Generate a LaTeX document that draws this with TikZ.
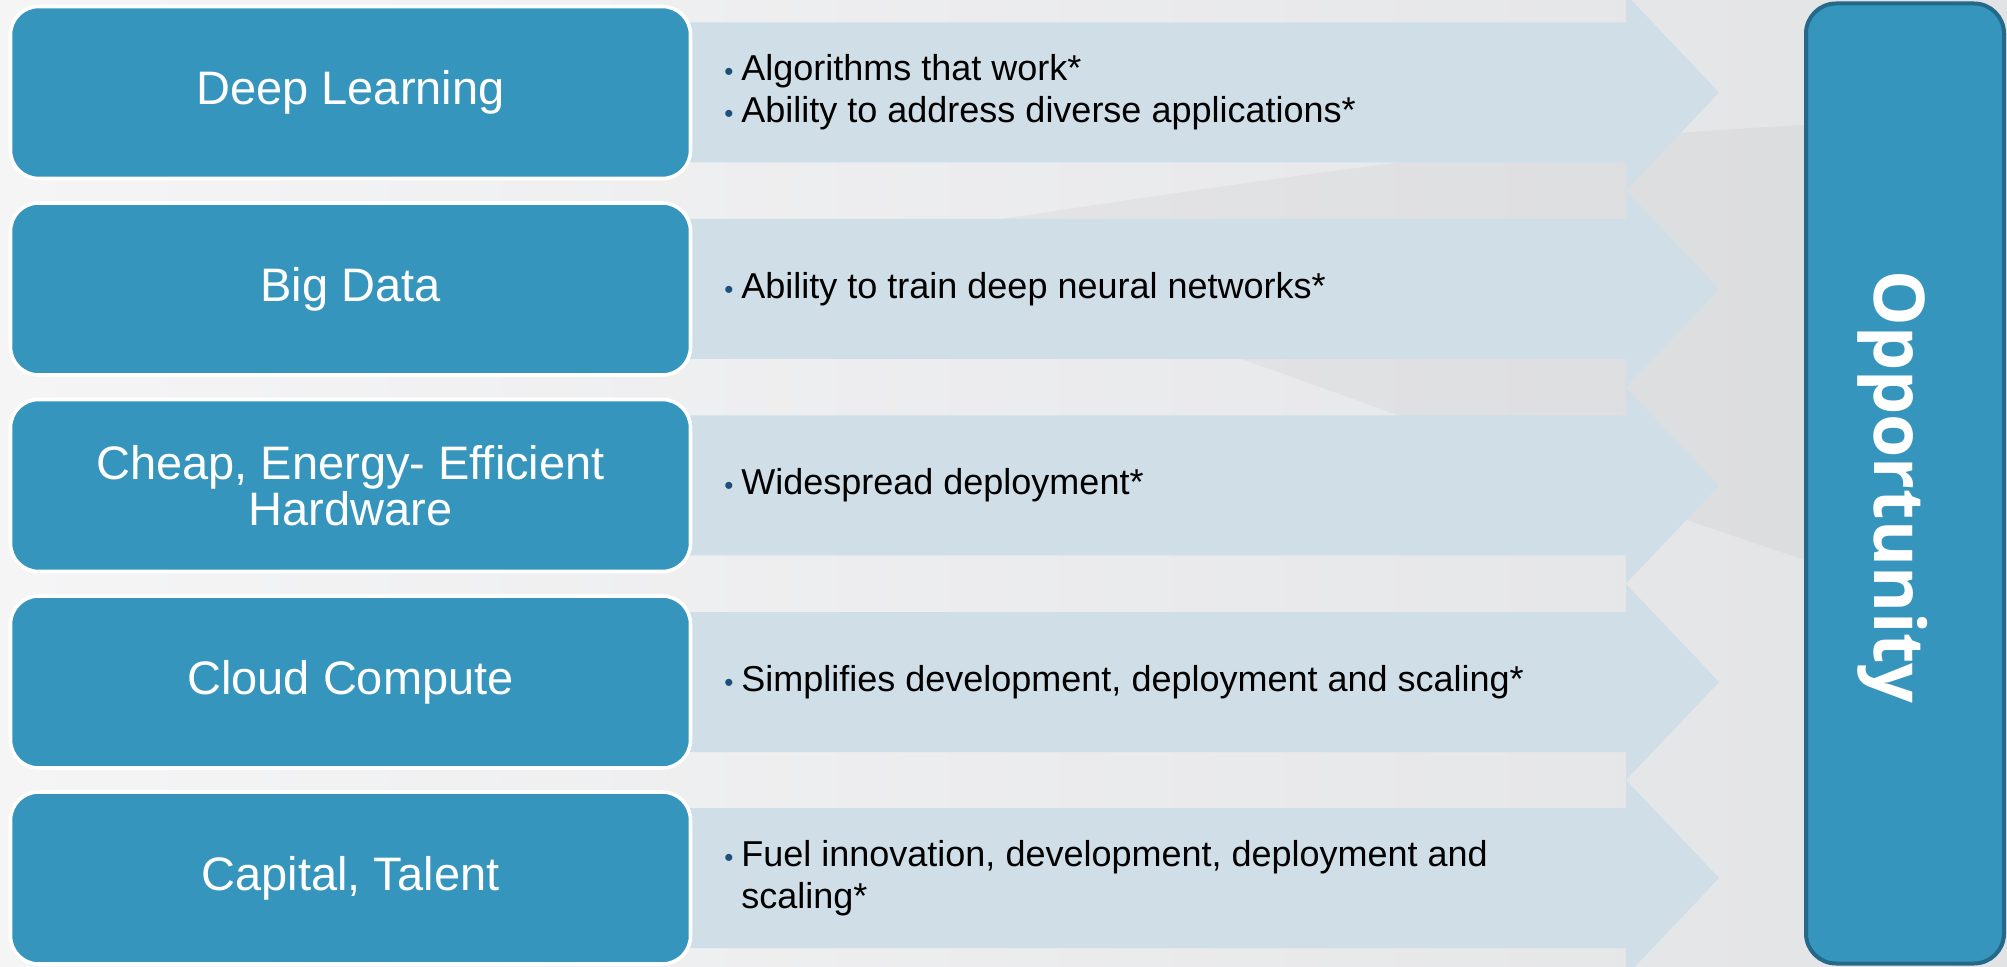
\documentclass[tikz,border=0pt]{standalone}
\usepackage{fontspec}
\setmainfont{Liberation Sans}
\newfontfamily\headfont{Open Sans}
\definecolor{boxblue}{RGB}{54,149,188}
\definecolor{boxedge}{RGB}{36,104,138}
\definecolor{arrowfill}{RGB}{207,222,231}
\definecolor{bulletblue}{RGB}{31,78,121}
\definecolor{bgleft}{RGB}{245,245,246}
\definecolor{bgright}{RGB}{226,227,229}
\newcommand\bul{\makebox[8.5pt][l]{\color{bulletblue}\fontsize{13}{13}\selectfont\textbullet}}

\begin{document}
\begin{tikzpicture}[x=0.5pt,y=-0.5pt,
		srcbox/.style={draw=white,line width=1.8pt,fill=boxblue,rounded corners=14pt,minimum width=340pt,minimum height=86pt,text=white,align=center,font=\fontsize{23.5}{23}\selectfont},
		infotext/.style={anchor=west,inner sep=0pt,align=left,text=black,font=\fontsize{18}{21}\selectfont},
		goalbox/.style={draw=boxedge,line width=2pt,fill=boxblue,rounded corners=15pt,minimum width=99pt,minimum height=480pt}]
			\useasboundingbox (0,0) rectangle (2007,967);
			\shade[left color=bgleft,right color=bgright] (0,0) rectangle (2007,967);
			\fill[gray,opacity=0.07] (860,240) .. controls (1200,190) and (1500,140) .. (1805,125) -- (1805,560) .. controls (1500,460) and (1200,330) .. (860,240);
			\foreach \y in {92.5,289,485.5,682,878}{
				\fill[arrowfill] (680,\y-70) -- (1626,\y-70) -- (1626,\y-98) -- (1719,\y) -- (1626,\y+98) -- (1626,\y+70) -- (680,\y+70) -- cycle;
			}
			\node[srcbox] (deep) at (350.5,92.5) {Deep Learning};
			\node[srcbox] (data) at (350.5,289) {Big Data};
			\node[srcbox] (hardware) at (350.5,485.5) {Cheap, Energy- Efficient\\Hardware};
			\node[srcbox] (cloud) at (350.5,682) {Cloud Compute};
			\node[srcbox] (capital) at (350.5,878) {Capital, Talent};
			\node[infotext] (deepinfo) at (724,92.5) {\bul Algorithms that work*\\\bul Ability to address diverse applications*};
			\node[infotext] (datainfo) at (724,289) {\bul Ability to train deep neural networks*};
			\node[infotext] (hardwareinfo) at (724,485.5) {\bul Widespread deployment*};
			\node[infotext] (cloudinfo) at (724,682) {\bul Simplifies development, deployment and scaling*};
			\node[infotext] (capitalinfo) at (724,878) {\bul Fuel innovation, development, deployment and\\\hspace*{8.5pt}scaling*};
			\node[goalbox] (opp) at (1905,483.5) {};
			\node[rotate=-90,text=white,font=\headfont\bfseries\fontsize{35}{40}\selectfont] (opplabel) at (1893,487) {Opportunity};
		\end{tikzpicture}
\end{document}
